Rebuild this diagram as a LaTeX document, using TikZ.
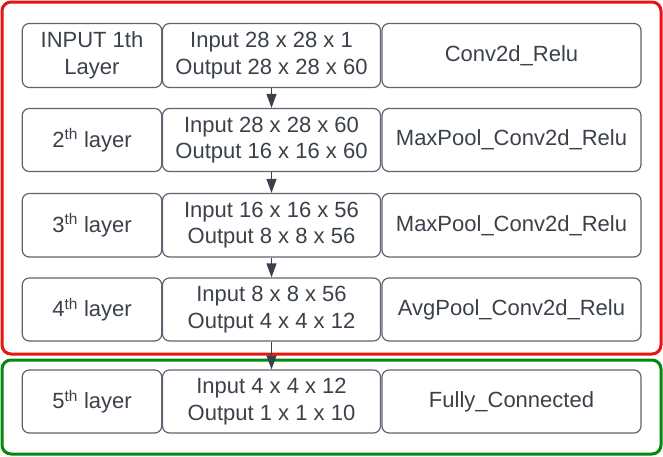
\documentclass[tikz,border=0pt]{standalone}
\usepackage{fontspec}
\setmainfont{Liberation Sans}
\usetikzlibrary{arrows.meta}
\definecolor{txt}{HTML}{3A414A}
\definecolor{bord}{HTML}{5E6470}
\definecolor{fred}{HTML}{E81313}
\definecolor{fgreen}{HTML}{008A0E}
\begin{document}
\begin{tikzpicture}[x=1pt,y=-1pt,
  cell/.style={draw=bord,line width=1.2pt,rounded corners=7pt,text=txt,align=center,
    font=\fontsize{22}{26.5}\selectfont,inner sep=0pt},
  frame/.style={line width=3pt,rounded corners=9pt},
  flow/.style={draw=txt,line width=1.2pt,-{Triangle[length=14pt,width=10pt]}}]
\useasboundingbox (0,0) rectangle (663,456);
\draw[frame,draw=fred] (2,2) rectangle (661,354);
\draw[frame,draw=fgreen] (2,360) rectangle (661,454);
% rows: top, bottom
\foreach \n/\t/\b/\a/\bb/\c in {
  1/23.5/87.5/{INPUT 1th\\Layer}/{Input 28 x 28 x 1\\Output 28 x 28 x 60}/{Conv2d\_Relu},
  2/108.5/171.5/{2\textsuperscript{th} layer}/{Input 28 x 28 x 60\\Output 16 x 16 x 60}/{MaxPool\_Conv2d\_Relu},
  3/193.5/257/{3\textsuperscript{th} layer}/{Input 16 x 16 x 56\\Output 8 x 8 x 56}/{MaxPool\_Conv2d\_Relu},
  4/278/341/{4\textsuperscript{th} layer}/{Input 8 x 8 x 56\\Output 4 x 4 x 12}/{AvgPool\_Conv2d\_Relu},
  5/370/433/{5\textsuperscript{th} layer}/{Input 4 x 4 x 12\\Output 1 x 1 x 10}/{Fully\_Connected}}{
  \node[cell,minimum width=139.5pt,minimum height={\b-\t}] (a\n) at (92,{(\t+\b)/2}) {\a};
  \node[cell,minimum width=218pt,minimum height={\b-\t}] (b\n) at (271.5,{(\t+\b)/2}) {\bb};
  \node[cell,minimum width=259pt,minimum height={\b-\t}] (c\n) at (511.5,{(\t+\b)/2}) {\c};
}
\foreach \i/\j in {1/2,2/3,3/4,4/5}{
  \draw[flow] (b\i.south) -- (b\j.north);
}
\end{tikzpicture}
\end{document}
